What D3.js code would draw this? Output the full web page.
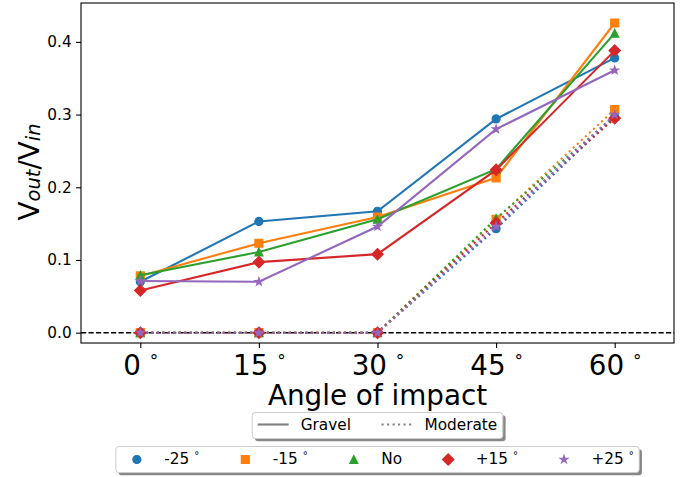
<!DOCTYPE html>
<html><head><meta charset="utf-8">
<script src="https://cdn.jsdelivr.net/npm/d3@7"></script>
<style>body{margin:0;background:#fff;} svg{display:block;font-family:"DejaVu Sans",sans-serif;}</style>
</head><body><svg id="c" width="689" height="477"></svg>
<script>
// ---- data ----
const angles = [0, 15, 30, 45, 60];
const seriesNames = ["-25", "-15", "No", "+15", "+25"];
const seriesDegree = [true, true, false, true, true];
const gravelM25 = [0.070, 0.153, 0.167, 0.294, 0.378];
const gravelM15 = [0.078, 0.123, 0.159, 0.213, 0.426];
const gravelNo  = [0.079, 0.111, 0.156, 0.225, 0.412];
const gravelP15 = [0.058, 0.097, 0.108, 0.224, 0.388];
const gravelP25 = [0.071, 0.070, 0.146, 0.280, 0.361];
const moderateM25 = [0, 0, 0, 0.143, 0.297];
const moderateM15 = [0, 0, 0, 0.156, 0.307];
const moderateNo  = [0, 0, 0, 0.157, 0.298];
const moderateP15 = [0, 0, 0, 0.151, 0.295];
const moderateP25 = [0, 0, 0, 0.146, 0.300];
const yTicks = [0.0, 0.1, 0.2, 0.3, 0.4];
const surfaceNames = ["Gravel", "Moderate"];
const xLabel = "Angle of impact";

const gravel = [gravelM25, gravelM15, gravelNo, gravelP15, gravelP25];
const moderate = [moderateM25, moderateM15, moderateNo, moderateP15, moderateP25];

// ---- styles ----
const colors = ["#1f77b4", "#ff7f0e", "#2ca02c", "#d62728", "#9467bd"];
const markers = ["circle", "square", "triangle", "diamond", "star"];
const MS = 8;
const FS = 15.3, BIG = 27.8;

const svg = d3.select("#c");
const L = 81, R = 674, T = 3, B = 343;
const x = d3.scaleLinear().domain([-7.5, 67.5]).range([L, R]);
const y = d3.scaleLinear().domain([-0.0142, 0.4535]).range([B, T]);

function markerPath(type, ms) {
  const h = ms / 2;
  if (type === "circle") { const p = d3.path(); p.arc(0, 0, h, 0, 2 * Math.PI); p.closePath(); return p.toString(); }
  if (type === "square") return `M${-h},${-h}H${h}V${h}H${-h}Z`;
  if (type === "triangle") return `M0,${-h}L${h},${h}L${-h},${h}Z`;
  if (type === "diamond") { const d = ms * Math.SQRT2 / 2; return `M0,${-d}L${d},0L0,${d}L${-d},0Z`; }
  if (type === "star") {
    const pts = []; const ri = h * 0.381966;
    for (let i = 0; i < 10; i++) {
      const r = i % 2 === 0 ? h : ri; const a = -Math.PI / 2 + i * Math.PI / 5;
      pts.push([r * Math.cos(a), r * Math.sin(a)]);
    }
    return "M" + pts.map(p => p.join(",")).join("L") + "Z";
  }
}

// zero line
svg.append("line").attr("x1", L).attr("x2", R).attr("y1", y(0)).attr("y2", y(0))
  .attr("stroke", "#000").attr("stroke-width", 1.4).attr("stroke-dasharray", "5.2,2.3");

const line = d3.line().x((d, i) => x(angles[i])).y(d => y(d));

function drawSeries(vals, k, dotted) {
  const g = svg.append("g");
  g.append("path").attr("d", line(vals)).attr("fill", "none")
    .attr("stroke", colors[k]).attr("stroke-width", 2.1)
    .attr("stroke-dasharray", dotted ? "2.1,3.4" : null);
  g.selectAll("path.m").data(vals).join("path").attr("class", "m")
    .attr("d", markerPath(markers[k], MS))
    .attr("transform", (d, i) => `translate(${x(angles[i])},${y(d)})`)
    .attr("fill", colors[k]).attr("stroke", colors[k]).attr("stroke-width", 1.2)
    .attr("stroke-linejoin", "miter");
}
gravel.forEach((v, k) => drawSeries(v, k, false));
moderate.forEach((v, k) => drawSeries(v, k, true));

// frame
svg.append("rect").attr("x", L).attr("y", T).attr("width", R - L).attr("height", B - T)
  .attr("fill", "none").attr("stroke", "#000").attr("stroke-width", 1.1);

// y axis
const ya = svg.append("g").attr("transform", `translate(${L},0)`)
  .call(d3.axisLeft(y).tickValues(yTicks).tickFormat(d3.format(".1f")).tickSize(4.9).tickPadding(4.5));
ya.select(".domain").remove();
ya.selectAll("line").attr("stroke", "#000").attr("stroke-width", 1.1);
ya.selectAll("text").attr("font-size", FS).attr("font-family", "DejaVu Sans").attr("fill", "#000");

// x axis
const xa = svg.append("g").attr("transform", `translate(0,${B})`)
  .call(d3.axisBottom(x).tickValues(angles).tickFormat("").tickSize(4.9));
xa.select(".domain").remove();
xa.selectAll("line").attr("stroke", "#000").attr("stroke-width", 1.1);
xa.selectAll(".tick").each(function (d) {
  const t = d3.select(this).append("text").attr("y", 31.5).attr("text-anchor", "middle")
    .attr("font-size", BIG).attr("fill", "#000").attr("font-family", "DejaVu Sans");
  t.append("tspan").text(d + " ");
  t.append("tspan").attr("font-size", 17).attr("dy", -7.6).text("°");
});

// x label
svg.append("text").attr("x", (L + R) / 2).attr("y", 404.5).attr("text-anchor", "middle")
  .attr("font-size", BIG).attr("fill", "#000").text(xLabel);

// y label
const yl = svg.append("text").attr("transform", `translate(38.5,${(T + B) / 2 - 1}) rotate(-90)`)
  .attr("text-anchor", "middle").attr("font-size", BIG).attr("fill", "#000");
yl.append("tspan").text("V");
yl.append("tspan").attr("font-size", 19.5).attr("font-style", "italic").attr("dy", 1.5).text("out");
yl.append("tspan").attr("dy", -1.5).text("/V");
yl.append("tspan").attr("font-size", 19.5).attr("font-style", "italic").attr("dy", 1.5).text("in");

// legends
function legend(items, top, drawHandle) {
  const h = 26, pad = 5.5, hl = 31, tp = 12, cs = 30.6;
  const g = svg.append("g");
  const shadow = g.append("rect"), frame = g.append("rect");
  const cy = top + h / 2;
  let cx = 0;
  const parts = [];
  items.forEach((it, i) => {
    const hg = g.append("g");
    const txt = g.append("text").attr("font-size", FS).attr("fill", "#000");
    txt.append("tspan").text(it.label);
    if (it.deg) { txt.append("tspan").text(" "); txt.append("tspan").attr("font-size", 10).attr("dy", -5).text("°"); }
    parts.push({ hg, txt, it });
  });
  let widths = parts.map(p => p.txt.node().getComputedTextLength());
  let total = pad * 2 + widths.reduce((a, w) => a + hl + tp + w, 0) + cs * (items.length - 1);
  const left = (L + R) / 2 - total / 2;
  cx = left + pad;
  parts.forEach((p, i) => {
    drawHandle(p.hg, p.it, cx, cx + hl, cy);
    p.txt.attr("x", cx + hl + tp).attr("y", cy + 4.6);
    cx += hl + tp + widths[i] + cs;
  });
  shadow.attr("x", left + 2.8).attr("y", top + 2.8).attr("width", total).attr("height", h)
    .attr("rx", 3).attr("fill", "#888");
  frame.attr("x", left).attr("y", top).attr("width", total).attr("height", h)
    .attr("rx", 3).attr("fill", "#fff").attr("stroke", "#ccc").attr("stroke-width", 1);
}

legend(surfaceNames.map((s, i) => ({ label: s, dotted: i === 1 })), 412.5, (g, it, x0, x1, cy) => {
  g.append("line").attr("x1", x0).attr("x2", x1).attr("y1", cy - 1).attr("y2", cy - 1)
    .attr("stroke", "#808080").attr("stroke-width", 2.1)
    .attr("stroke-dasharray", it.dotted ? "2.1,3.4" : null);
});
legend(seriesNames.map((s, i) => ({ label: s, deg: seriesDegree[i], k: i })), 446.5, (g, it, x0, x1, cy) => {
  g.append("path").attr("d", markerPath(markers[it.k], MS))
    .attr("transform", `translate(${(x0 + x1) / 2},${cy})`)
    .attr("fill", colors[it.k]).attr("stroke", colors[it.k]).attr("stroke-width", 1.2);
});
</script></body></html>
